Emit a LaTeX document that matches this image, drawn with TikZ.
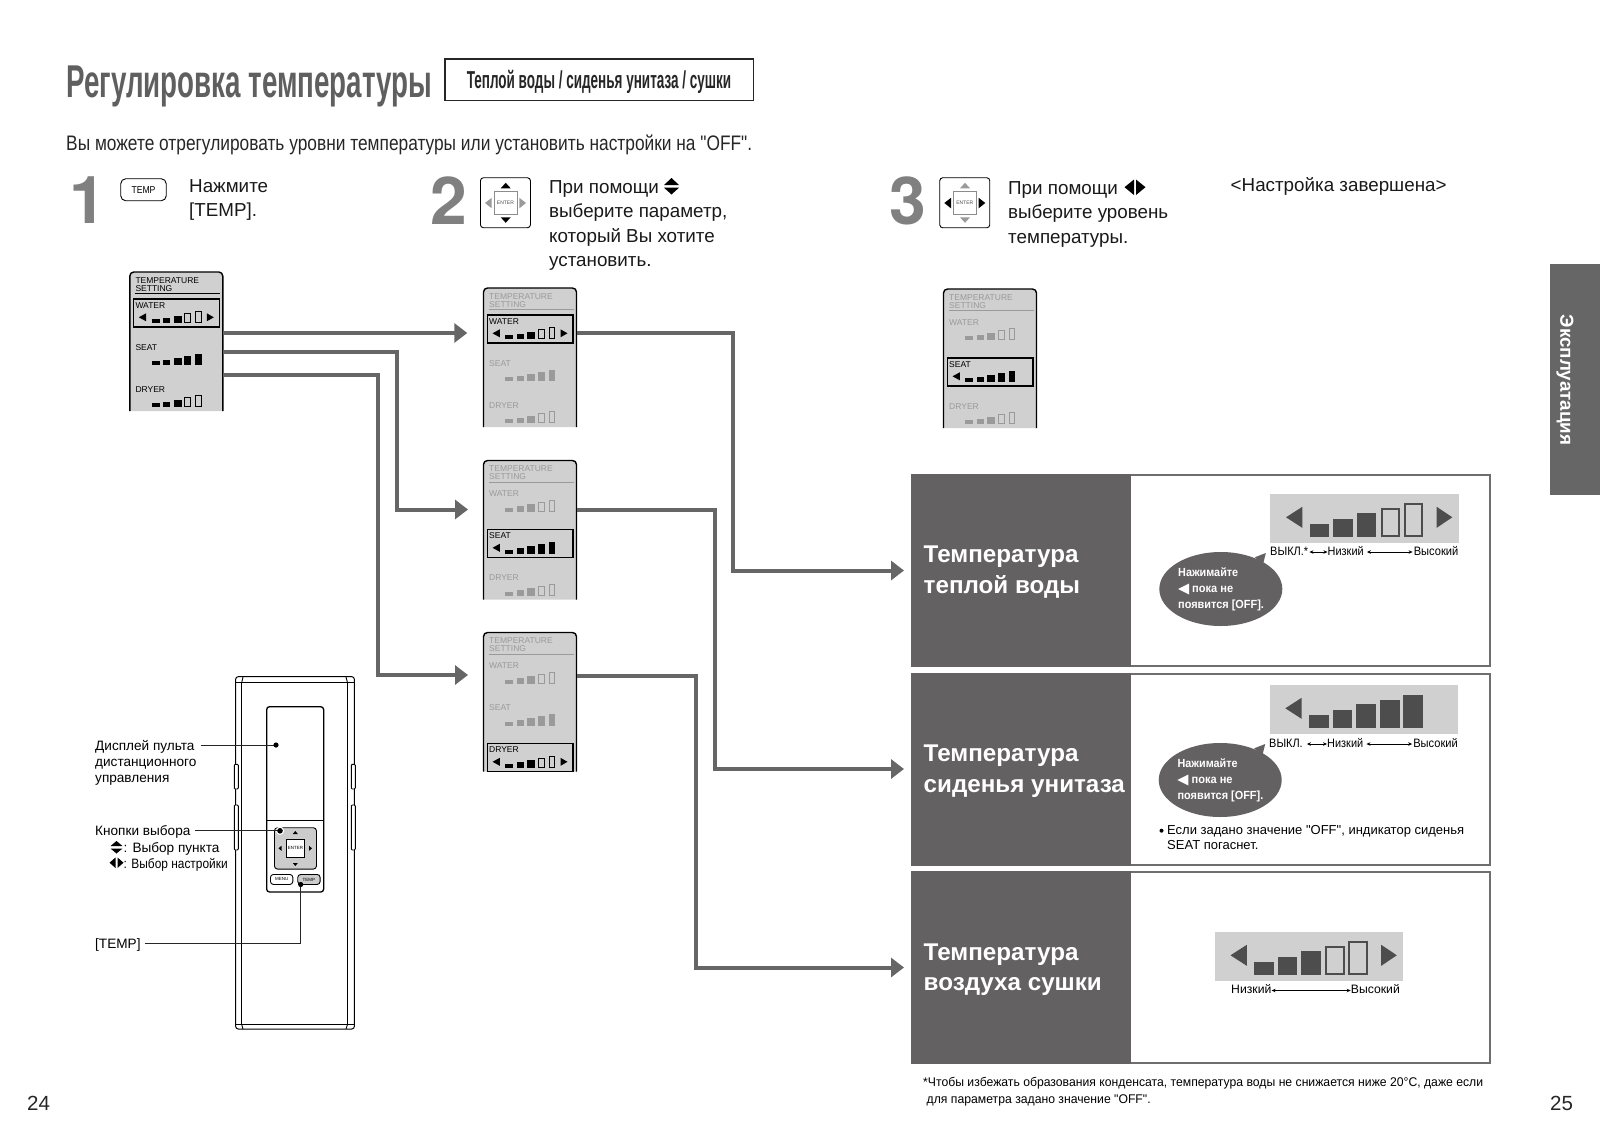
\documentclass[tikz,border=0pt]{standalone}
\usepackage{fontspec}
\usepackage{graphicx}
\setmainfont{Liberation Sans}[Ligatures=TeXOff]
\newfontfamily\numfont{TeX Gyre Heros}
\usetikzlibrary{arrows.meta,shapes.geometric}

\definecolor{inkgrey}{HTML}{5F5F5F}
\definecolor{numgrey}{HTML}{808080}
\definecolor{flowgrey}{HTML}{666666}
\definecolor{headgrey}{HTML}{636162}
\definecolor{edgegrey}{HTML}{6E6E6E}
\definecolor{lcdgrey}{HTML}{D0D0D0}
\definecolor{dimgrey}{HTML}{9A9A9A}
\definecolor{bargrey}{HTML}{4D4D4D}

\newcommand{\fsz}[1]{\fontsize{#1}{#1}\selectfont}
\newcommand{\fitw}[2]{\resizebox{#1pt}{\height}{#2}}

\tikzset{
  flowline/.style={draw=flowgrey,line width=4pt,-{Triangle[length=13pt,width=19pt]}},
  bignum/.style={font=\numfont\bfseries\fsz{66},text=numgrey,inner sep=0pt,anchor=west},
  steptext/.style={font=\fontsize{18.8}{24.6}\selectfont,align=left,inner sep=0pt,anchor=north west,text=black!90},
  lcdtext/.style={font=\fsz{8.5},inner sep=0pt,anchor=west},
  lcdframe/.style={minimum width=93pt,minimum height=139pt,inner sep=0pt,anchor=north west},
  settingbox/.style={draw=edgegrey,line width=2pt,fill=white,minimum width=578pt,minimum height=191pt,inner sep=0pt,anchor=north west},
  headbox/.style={fill=headgrey,minimum width=220pt,minimum height=193pt,inner sep=0pt,anchor=north west},
  headtext/.style={font=\bfseries\fontsize{24.2}{30.5}\selectfont,text=white,align=left,inner sep=0pt,anchor=west},
  scaletext/.style={font=\fsz{12.2},inner sep=0pt,text height=9pt,text depth=3pt},
  scalearrow/.style={line width=.7pt,{Stealth[length=4pt,width=3.5pt]}-{Stealth[length=4pt,width=3.5pt]}},
  bubble/.style={ellipse,fill=headgrey,minimum width=123pt,minimum height=74pt,inner sep=0pt},
  bubbletext/.style={font=\bfseries\fontsize{11.8}{16.3}\selectfont,text=white,align=left,inner sep=0pt,anchor=west},
  remotetext/.style={font=\fsz{13.6},inner sep=0pt,anchor=west,text height=12.5pt,text depth=2.5pt},
  leader/.style={line width=.8pt,draw=black!85},
  note/.style={font=\fsz{12.6},inner sep=0pt,anchor=west},
  keycap/.style={draw=black,rounded corners=3pt,line width=.9pt,fill=white,inner sep=0pt},
}

% the small bars of a screen row, base at y=0
\newcommand{\lcdbars}[2]{
  \foreach \barno/\barx/\barw/\barh in {1/0/8/4,2/11.3/7/5.7,3/22/8/7.3,4/32.7/7/9.3,5/43.3/6.7/11.7}{
    \ifnum\barno>#1
      \draw[#2,line width=.9pt] (\barx+.5,-.5) rectangle (\barx+\barw-.5,-\barh);
    \else
      \fill[#2] (\barx,0) rectangle (\barx+\barw,-\barh);
    \fi
  }
}

% one small screen: name, x, y, active row, colour of the others
\newcommand{\lcdpanel}[5]{
  \fill[lcdgrey,rounded corners=4pt] (#2,#3+100) -- (#2,#3) -- (#2+93,#3) -- (#2+93,#3+100)
    [sharp corners] -- (#2+93,#3+139) -- (#2,#3+139) -- cycle;
  \node[lcdframe] (#1) at (#2,#3) {};
  \begin{scope}[shift={(#2,#3)}]
    \draw[line width=1.4pt,rounded corners=4pt] (0,139) -- (0,0) -- (93,0) -- (93,139);
    \node[lcdtext,text=#5] (#1-t1) at (5.5,8.4) {TEMPERATURE};
    \node[lcdtext,text=#5] (#1-t2) at (5.5,16.4) {SETTING};
    \draw[#5,line width=1pt] (5,21.7) -- (90,21.7);
    \foreach \rowname/\rowy/\rown/\rownum in {WATER/32.7/3/1,SEAT/74.7/5/2,DRYER/116.7/3/3}{
      \ifnum\rownum=#4 \def\lcdink{black}\else\def\lcdink{#5}\fi
      \node[lcdtext,text=\lcdink] (#1-\rowname) at (5.5,\rowy+.7) {\rowname};
      \begin{scope}[shift={(21.7,\rowy+18.5)}]
        \lcdbars{\rown}{\lcdink}
      \end{scope}
      \ifnum\rownum=#4
        \draw[line width=1.3pt] (4,\rowy-5.7) rectangle (89.4,\rowy+22.3);
        \fill (9,\rowy+12.6) -- (16.3,\rowy+8.6) -- (16.3,\rowy+16.6) -- cycle;
        \ifnum\rown<5
          \fill (84,\rowy+12.6) -- (77,\rowy+8.6) -- (77,\rowy+16.6) -- cycle;
        \fi
      \fi
    }
  \end{scope}
}

% the five level bars, base at y=0
\newcommand{\levelbars}[3]{
  \foreach \barno/\barx/\barh in {1/0/12.7,2/23.6/17.3,3/47/23.3,4/71/27.3,5/94/32.3}{
    \ifnum\barno>#1
      \draw[#2,line width=#3] (\barx+1,-1) rectangle (\barx+18.6,-\barh);
    \else
      \fill[#2] (\barx,0) rectangle (\barx+19.6,-\barh);
    \fi
  }
}

% the large level strip: name, x, y, filled bars
\newcommand{\levelstrip}[4]{
  \node[fill=lcdgrey,minimum width=188.5pt,minimum height=48.7pt,inner sep=0pt,anchor=north west] (#1) at (#2,#3) {};
  \begin{scope}[shift={(#2,#3)}]
    \fill[bargrey] (16,23.3) -- (32.3,12.8) -- (32.3,33.8) -- cycle;
    \ifnum#4<5
      \fill[bargrey] (182.3,23.3) -- (166.7,12.8) -- (166.7,33.8) -- cycle;
    \fi
    \begin{scope}[shift={(39.7,42.7)}]
      \levelbars{#4}{bargrey}{2pt}
    \end{scope}
  \end{scope}
}

% the call-out with the hint: name, centre x, centre y
\newcommand{\hintbubble}[3]{
  \fill[headgrey] (#2+34,#3-31.7) -- (#2+45,#3-36) -- (#2+42,#3-24) -- cycle;
  \node[bubble] (#1) at (#2,#3) {};
  \node[bubbletext] (#1-text) at (#2-42.8,#3+.5) {\fitw{60}{Нажимайте}\\\hspace*{14pt}\fitw{41}{пока не}\\\fitw{85.7}{появится [OFF].}};
  \fill[white] (#2-42.8,#3) -- (#2-31.8,#3-5.5) -- (#2-31.8,#3+5.5) -- cycle;
}

% the key with four triangles: name, x, y, colour up/down, colour left/right
\newcommand{\enterkey}[5]{
  \node[keycap,minimum width=50pt,minimum height=50pt,anchor=north west] (#1) at (#2,#3) {};
  \node[draw=black!45,line width=.9pt,minimum width=23pt,minimum height=23pt,inner sep=0pt,font=\fsz{5},text=black!70] (#1-enter) at (#1.center) {ENTER};
  \begin{scope}[shift={(#2,#3)}]
    \fill[#4] (20.7,11) -- (30.7,11) -- (25.7,5.5) -- cycle;
    \fill[#4] (20.7,40) -- (30.7,40) -- (25.7,45.5) -- cycle;
    \fill[#5] (11.7,20.5) -- (11.7,31) -- (5,25.7) -- cycle;
    \fill[#5] (39.3,20.5) -- (39.3,31) -- (46,25.7) -- cycle;
  \end{scope}
}

\begin{document}
\begin{tikzpicture}[x=1pt,y=-1pt]
  \useasboundingbox (0,0) rectangle (1600,1132);

  % heading
  \node[inner sep=0pt,anchor=west,text=inkgrey] (title) at (66,86) {\fitw{366}{\bfseries\fsz{46}Регулировка температуры}};
  \node[draw=black!85,line width=1.5pt,minimum width=308.5pt,minimum height=41.4pt,inner sep=0pt,anchor=north west] (titlebox) at (444,58.3) {};
  \node[inner sep=0pt,text=black!85,yshift=-2pt] (titletext) at (titlebox.center) {\fitw{264.5}{\bfseries\fsz{24.5}Теплой воды / сиденья унитаза / сушки}};
  \node[inner sep=0pt,anchor=west,text=black!85] (intro) at (66,145) {\fitw{686}{\fsz{21}Вы можете отрегулировать уровни температуры или установить настройки на "OFF".}};

  % steps
  \node[bignum] (stepA) at (69.5,200.5) {1};
  \node[bignum] (stepB) at (430,200.5) {2};
  \node[bignum] (stepC) at (889,200.5) {3};
  \node[keycap,minimum width=45.5pt,minimum height=22pt,rounded corners=5pt,anchor=north west,font=\fsz{10}] (tempkey) at (120.3,178.3) {\fitw{24}{TEMP}};
  \enterkey{keyB}{480}{177.3}{black}{dimgrey}
  \enterkey{keyC}{939.3}{177.3}{dimgrey}{black}
  \node[steptext] (textA) at (189,179) {Нажмите\\{[TEMP].}};
  \node[steptext] (textB) at (549,180) {При помощи\\выберите параметр,\\который Вы хотите\\установить.};
  \node[steptext] (textC) at (1008,181) {При помощи\\выберите уровень\\температуры.};
  \node[steptext] (textDone) at (1230.5,177.5) {<Настройка завершена>};
  \fill (664,185) -- (679,185) -- (671.5,178) -- cycle;
  \fill (664,187.7) -- (679,187.7) -- (671.5,194.5) -- cycle;
  \fill (1134,179.5) -- (1134,195) -- (1124.5,187.2) -- cycle;
  \fill (1136,179.5) -- (1136,195) -- (1145.5,187.2) -- cycle;

  % screens
  \lcdpanel{lcdMain}{129.8}{272}{1}{black}
  \lcdpanel{lcdWater}{483.5}{288}{1}{dimgrey}
  \lcdpanel{lcdSeat}{483.5}{460.5}{2}{dimgrey}
  \lcdpanel{lcdDryer}{483.5}{632.5}{3}{dimgrey}
  \lcdpanel{lcdDone}{943.5}{289}{2}{dimgrey}

  % result boxes
  \node[settingbox] (boxWater) at (911,474) {};
  \node[settingbox] (boxSeat) at (911,672.5) {};
  \node[settingbox] (boxDryer) at (911,871) {};
  \node[headbox] (headWater) at (911,474) {};
  \node[headbox] (headSeat) at (911,672.5) {};
  \node[headbox] (headDryer) at (911,871) {};
  \node[headtext] (titleWater) at (923.5,572) {Температура\\теплой воды};
  \node[headtext] (titleSeat) at (923.5,771) {Температура\\сиденья унитаза};
  \node[headtext] (titleDryer) at (923.5,969.5) {Температура\\воздуха сушки};

  \levelstrip{stripWater}{1270}{494}{3}
  \levelstrip{stripSeat}{1269.3}{685}{5}
  \levelstrip{stripDryer}{1214.5}{932}{3}

  \node[scaletext,anchor=west] (offWater) at (1270,552) {\fitw{38}{ВЫКЛ.*}};
  \node[scaletext,anchor=west] (lowWater) at (1327.5,552) {\fitw{36}{Низкий}};
  \node[scaletext,anchor=east] (highWater) at (1458.5,552) {\fitw{44.5}{Высокий}};
  \draw[scalearrow,shorten <=1pt] (offWater) -- (lowWater);
  \draw[scalearrow,shorten <=3pt,shorten >=1pt] (lowWater) -- (highWater);
  \node[scaletext,anchor=west] (offSeat) at (1269,744) {\fitw{33.5}{ВЫКЛ.}};
  \node[scaletext,anchor=west] (lowSeat) at (1327,744) {\fitw{36}{Низкий}};
  \node[scaletext,anchor=east] (highSeat) at (1458,744) {\fitw{44.5}{Высокий}};
  \draw[scalearrow,shorten <=4pt] (offSeat) -- (lowSeat);
  \draw[scalearrow,shorten <=3pt,shorten >=1pt] (lowSeat) -- (highSeat);
  \node[scaletext,anchor=west] (lowDryer) at (1231,990.5) {Низкий};
  \node[scaletext,anchor=east] (highDryer) at (1400,990.5) {Высокий};
  \draw[scalearrow] (lowDryer) -- (highDryer);

  \hintbubble{hintWater}{1220.8}{589}
  \hintbubble{hintSeat}{1220.2}{780}

  \node[note,font=\fontsize{13}{15}\selectfont,align=left,anchor=north west] (seatNote) at (1167,825.5) {Если задано значение "OFF", индикатор сиденья\\SEAT погаснет.};
  \fill (1161.5,830.7) circle (2pt);

  % connectors
  \coordinate (tapWater) at (222.5,333);
  \coordinate (tapSeat) at (222.5,352);
  \coordinate (tapDryer) at (222.5,375);
  \coordinate (inWater) at (467.3,333);
  \coordinate (inSeat) at (468,509.5);
  \coordinate (inDryer) at (468,675);
  \coordinate (bendSeatA) at (396.7,509.5);
  \coordinate (bendDryerA) at (378,675);
  \coordinate (outWater) at (576.5,333);
  \coordinate (outSeat) at (576.5,509.5);
  \coordinate (outDryer) at (576.5,675.5);
  \coordinate (bendWater) at (733,0 |- boxWater.west);
  \coordinate (bendSeat) at (714.5,0 |- boxSeat.west);
  \coordinate (bendDryer) at (696,0 |- boxDryer.west);
  \draw[flowline] (tapWater) -- (inWater);
  \draw[flowline] (tapSeat) -| (bendSeatA) -- (inSeat);
  \draw[flowline] (tapDryer) -| (bendDryerA) -- (inDryer);
  \draw[flowline,shorten >=7pt] (outWater) -| (bendWater) -- (boxWater.west);
  \draw[flowline,shorten >=7pt] (outSeat) -| (bendSeat) -- (boxSeat.west);
  \draw[flowline,shorten >=7pt] (outDryer) -| (bendDryer) -- (boxDryer.west);

  % remote control
  \draw[line width=1pt,rounded corners=2.5pt] (235.7,676.7) rectangle (354.3,1029);
  \draw[line width=.9pt] (236,682.7) -- (354,682.7) (236,1024.5) -- (354,1024.5);
  \draw[line width=.9pt] (241.7,682.7) -- (243,677) (347.5,682.7) -- (346,677) (241.7,1024.5) -- (243,1029) (347.5,1024.5) -- (346,1029);
  \draw[line width=.9pt] (241.7,682.7) -- (241.7,1024.5) (347.5,682.7) -- (347.5,1024.5);
  \foreach \sidex in {234.3,351.3}{
    \draw[line width=.9pt,fill=white,rounded corners=1pt] (\sidex,764.3) rectangle (\sidex+4,789);
    \draw[line width=.9pt,fill=white,rounded corners=1pt] (\sidex,805) rectangle (\sidex+4,850);
  }
  \node[draw=black,line width=1.3pt,rounded corners=3pt,minimum width=57pt,minimum height=185.4pt,inner sep=0pt,anchor=north west] (display) at (266,706) {};
  \draw[line width=1pt] (display.west |- 0,820) -- (display.east |- 0,820);
  \node[draw=black,line width=.9pt,fill=black!20,rounded corners=3pt,minimum width=42pt,minimum height=41.3pt,inner sep=0pt,anchor=north west] (pad) at (274,827.3) {};
  \node[draw=black,line width=.8pt,fill=white,minimum width=18.5pt,minimum height=17.6pt,inner sep=0pt,font=\fsz{4.5}] (padEnter) at (pad.center) {ENTER};
  \fill (295.3,831) -- (292.8,834) -- (297.8,834) -- cycle;
  \fill (295.3,866) -- (292.8,863) -- (297.8,863) -- cycle;
  \fill (278.5,848.3) -- (281.5,845.8) -- (281.5,850.8) -- cycle;
  \fill (312,848.3) -- (309,845.8) -- (309,850.8) -- cycle;
  \node[keycap,rounded corners=3pt,minimum width=22.4pt,minimum height=10pt,anchor=north west,font=\fsz{4.5}] (keyMenu) at (270,874) {MENU};
  \node[keycap,rounded corners=3pt,fill=black!20,minimum width=22.4pt,minimum height=10pt,anchor=north west,font=\fsz{4.5}] (keyTemp) at (297.3,874) {TEMP};

  % remote labels
  \node[remotetext] (labDisplay) at (95,745) {Дисплей пульта};
  \node[remotetext] (labDisplayB) at (95,761) {дистанционного};
  \node[remotetext] (labDisplayC) at (95,777.5) {управления};
  \node[remotetext] (labSelect) at (95,830.8) {Кнопки выбора};
  \node[remotetext] (labItem) at (123.5,847) {: Выбор пункта};
  \node[remotetext] (labLevel) at (123.5,863) {\fitw{104}{: Выбор настройки}};
  \node[remotetext] (labTemp) at (95,943.5) {[TEMP]};
  \fill (110.5,846) -- (122.5,846) -- (116.5,841) -- cycle;
  \fill (110.5,848.5) -- (122.5,848.5) -- (116.5,853.5) -- cycle;
  \fill (115.5,857.5) -- (115.5,868) -- (109.5,862.7) -- cycle;
  \fill (117.5,857.5) -- (117.5,868) -- (123.5,862.7) -- cycle;
  \coordinate (dotDisplay) at (276,745);
  \coordinate (dotSelect) at (280,830.8);
  \coordinate (dotTemp) at (300.7,884.5);
  \fill[white] (dotSelect) circle (4.2pt);
  \draw[leader,shorten <=6pt] (labDisplay) -- (dotDisplay);
  \draw[leader,shorten <=4pt] (labSelect) -- (dotSelect);
  \draw[leader,shorten <=4pt] (labTemp) -| (dotTemp);
  \fill (dotDisplay) circle (2.6pt);
  \fill (dotSelect) circle (2.8pt);
  \fill (dotTemp) circle (2.6pt);

  % footnote, tab, page numbers
  \node[note] (footA) at (923,1083.5) {\fitw{560}{*Чтобы избежать образования конденсата, температура воды не снижается ниже 20°C, даже если}};
  \node[note] (footB) at (926.5,1100.5) {\fitw{224}{для параметра задано значение "OFF".}};
  \node[fill=flowgrey,minimum width=50pt,minimum height=231pt,inner sep=0pt,anchor=north west] (tab) at (1550,264) {};
  \node[rotate=-90,font=\bfseries\fsz{18.8},text=white,inner sep=0pt] (tabtext) at (1565,380) {Эксплуатация};
  \node[font=\fsz{20.5},inner sep=0pt,text=black!85,anchor=west] (pageL) at (27,1103) {24};
  \node[font=\fsz{20.5},inner sep=0pt,text=black!85,anchor=west] (pageR) at (1550,1103) {25};
\end{tikzpicture}
\end{document}
